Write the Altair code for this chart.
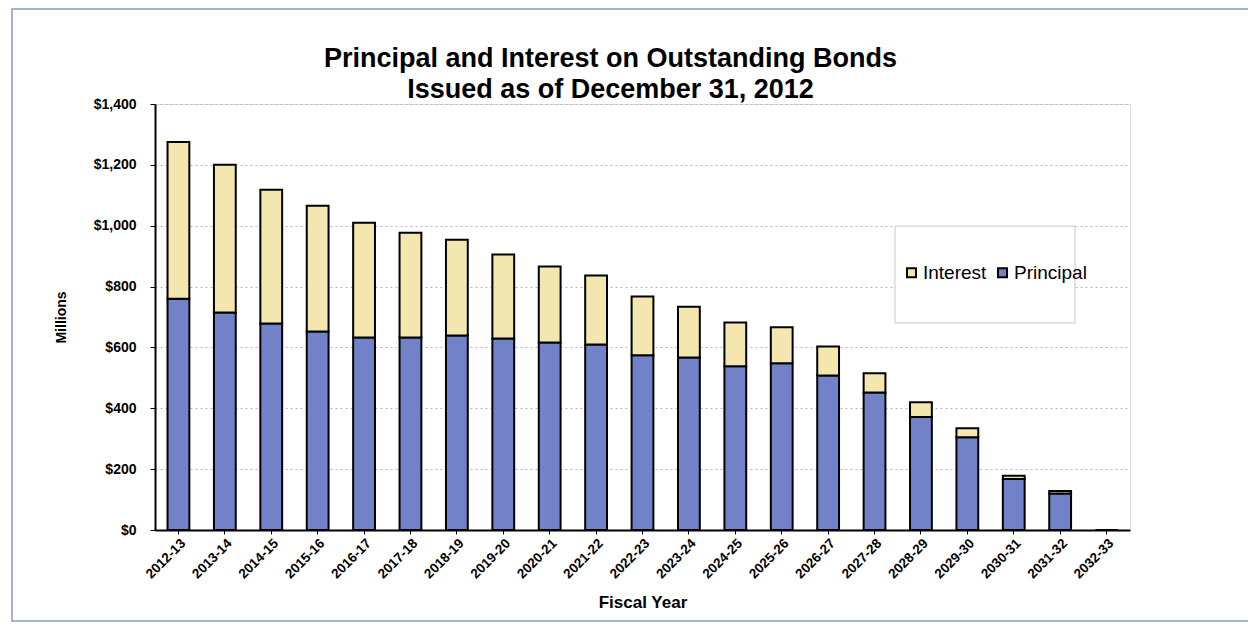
import altair as alt
import pandas as pd

years = ["2012-13", "2013-14", "2014-15", "2015-16", "2016-17", "2017-18", "2018-19",
         "2019-20", "2020-21", "2021-22", "2022-23", "2023-24", "2024-25", "2025-26",
         "2026-27", "2027-28", "2028-29", "2029-30", "2030-31", "2031-32", "2032-33"]
principal = [760, 715, 679, 652, 633, 633, 639, 629, 616, 610, 574, 567, 538, 548,
             508, 452, 371, 305, 168, 120, 0]
totals = [1275, 1200, 1118, 1066, 1010, 977, 954, 905, 866, 836, 767, 734, 682, 666,
          603, 515, 420, 334, 178, 128, 0]
interest = [t - p for t, p in zip(totals, principal)]

series = ["Interest", "Principal"]
colors = ["#F3E6AE", "#7282C8"]

rows = []
for y, p, i in zip(years, principal, interest):
    rows.append({"year": y, "series": "Principal", "value": p, "ord": 0})
    rows.append({"year": y, "series": "Interest", "value": i, "ord": 1})
df = pd.DataFrame(rows)

FONT = "Liberation Sans"

bars = alt.Chart(df).mark_bar(stroke="black", strokeWidth=2).encode(
    x=alt.X("year:N", sort=years,
            scale=alt.Scale(paddingInner=0.53, paddingOuter=0.27),
            axis=alt.Axis(title="Fiscal Year", labelAngle=315, labelFontWeight="bold",
                          labelFontSize=13.5, labelFont=FONT, titleFont=FONT,
                          titleFontSize=17, titleFontWeight="bold", titlePadding=14,
                          domainColor="black", domainWidth=2, tickColor="black",
                          tickSize=4, labelPadding=2, labelColor="black",
                          titleColor="black", grid=False)),
    y=alt.Y("value:Q", stack="zero",
            scale=alt.Scale(domain=[0, 1400], nice=False),
            axis=alt.Axis(title="Millions", format="$,.0f",
                          values=[0, 200, 400, 600, 800, 1000, 1200, 1400],
                          labelFont=FONT, labelFontSize=14, labelFontWeight="bold",
                          labelColor="black", titleFont=FONT, titleFontSize=14,
                          titleFontWeight="bold", titleColor="black", titlePadding=25,
                          domainColor="black", domainWidth=2, tickColor="black",
                          tickSize=5, labelPadding=14, grid=True, gridColor="#b8b8b8",
                          gridDash=[2, 3], gridWidth=1)),
    color=alt.Color("series:N", scale=alt.Scale(domain=series, range=colors),
                    legend=alt.Legend(title=None, orient="none", legendX=747, legendY=159,
                                      direction="horizontal", symbolType="square",
                                      symbolSize=81, symbolStrokeColor="black",
                                      symbolStrokeWidth=2, labelFont=FONT,
                                      labelFontSize=19, labelColor="black",
                                      columnPadding=6, labelOffset=2)),
    order=alt.Order("ord:Q"),
)

legend_box = alt.Chart(alt.Data(values=[{}])).mark_rect(
    fill="white", stroke="#c8c8c8", strokeWidth=1
).encode(x=alt.value(740), x2=alt.value(920), y=alt.value(122), y2=alt.value(219))

frame = alt.Chart(alt.Data(values=[{}])).mark_rect(
    fillOpacity=0, stroke="#8a9cc0", strokeWidth=1.5, clip=False
).encode(x=alt.value(-143), x2=alt.value(1094), y=alt.value(-95), y2=alt.value(517))

chart = alt.layer(legend_box, bars, frame).properties(
    width=975, height=426,
    title=alt.TitleParams(["Principal and Interest on Outstanding Bonds",
                           "Issued as of December 31, 2012"],
                          font=FONT, fontSize=27, fontWeight="bold", color="black",
                          lineHeight=31, anchor="middle", dx=-32, dy=98, offset=2,
                          frame="group"),
    autosize=alt.AutoSizeParams(type="none"),
    padding={"left": 147, "top": 96, "right": 118, "bottom": 94},
).configure_view(stroke="#333333", strokeWidth=1.5).configure(background="white")

chart.save("out.html", embed_options={"renderer": "svg", "actions": False})
